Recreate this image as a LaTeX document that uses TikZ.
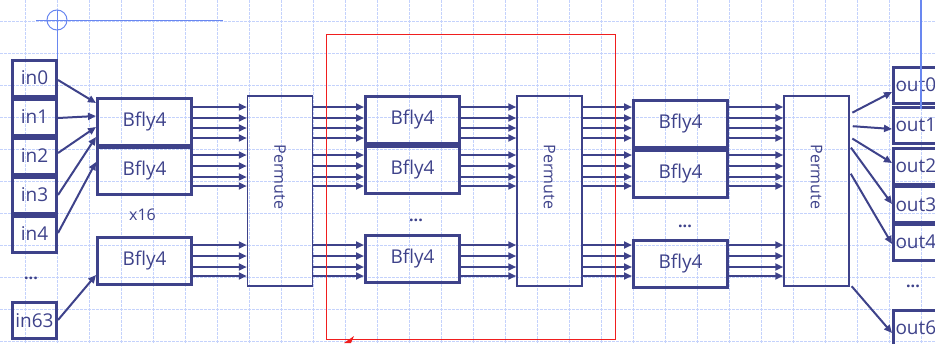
\documentclass[tikz,border=0pt]{standalone}
\usepackage{fontspec}
\setmainfont{Open Sans}
\usetikzlibrary{arrows.meta}
\definecolor{navy}{RGB}{62,66,138}
\definecolor{gridc}{RGB}{196,210,252}
\definecolor{markc}{RGB}{105,135,240}
\definecolor{selred}{RGB}{240,30,30}
\begin{document}
\begin{tikzpicture}[x=1pt,y=-1pt,
  bbox/.style={draw=navy,line width=3pt,inner sep=0pt,text=navy,font=\fontsize{19}{19}\selectfont},
  inbox/.style={bbox,minimum width=44pt,minimum height=36pt},
  fly/.style={bbox,minimum width=94pt,minimum height=47pt},
  perm/.style={draw=navy,line width=1.5pt,minimum width=65pt,minimum height=190pt,inner sep=0pt},
  permtext/.style={text=navy,rotate=-90,font=\fontsize{16}{16}\selectfont,inner sep=0pt},
  obox/.style={bbox,minimum width=60pt,minimum height=36pt,text width=56pt,align=left},
  arr/.style={draw=navy,line width=2pt,-{Triangle[length=8pt,width=7pt]}},
  note/.style={text=navy,font=\fontsize{16}{16}\selectfont,inner sep=0pt},
  dots/.style={text=navy,font=\bfseries\fontsize{16}{16}\selectfont,inner sep=0pt},
  gridline/.style={draw=gridc,line width=0.9pt,dash pattern=on 2.5pt off 1.5pt},
  guideline/.style={draw=markc,line width=1pt}
]
\useasboundingbox (0,0) rectangle (935,343);
\clip (0,0) rectangle (935,343);
% grid
\foreach \gx in {25,57,...,921} \draw[gridline] (\gx,0) -- (\gx,343);
\foreach \gy in {21,53,...,341} \draw[gridline] (0,\gy) -- (935,\gy);

% inputs
\node[inbox] (in0) at (34.5,78) {in0};
\node[inbox] (in1) at (34.5,117) {in1};
\node[inbox] (in2) at (34.5,156) {in2};
\node[inbox] (in3) at (34.5,195) {in3};
\node[inbox] (in4) at (34.5,234) {in4};
\node[inbox] (in63) at (34.5,320.5) {in63};
\node[dots] (din) at (31,278) {...};

% butterflies
\node[fly] (f11) at (144.5,121.5) {Bfly4};
\node[fly] (f12) at (144.5,171) {Bfly4};
\node[fly] (f13) at (144.5,261) {Bfly4};
\node[note] (x16) at (142.5,215) {x16};

\node[fly] (f21) at (412.5,120) {Bfly4};
\node[fly] (f22) at (412.5,169.5) {Bfly4};
\node[fly] (f23) at (412.5,259) {Bfly4};
\node[dots] (d2) at (416,220) {...};

\node[fly] (f31) at (680.5,124) {Bfly4};
\node[fly] (f32) at (680.5,174) {Bfly4};
\node[fly] (f33) at (680.5,264) {Bfly4};
\node[dots] (d3) at (685,226) {...};

% permutes
\node[perm] (p1) at (280,191) {};
\node[perm] (p2) at (549.5,191) {};
\node[perm] (p3) at (816.5,191) {};
\node[permtext] (p1t) at ([yshift=14pt]p1.center) {Permute};
\node[permtext] (p2t) at ([yshift=14pt]p2.center) {Permute};
\node[permtext] (p3t) at ([yshift=14pt]p3.center) {Permute};

% outputs
\node[obox] (o0) at (923.5,85) {out0};
\node[obox] (o1) at (923.5,125) {out1};
\node[obox] (o2) at (923.5,166) {out2};
\node[obox] (o3) at (923.5,204.5) {out3};
\node[obox] (o4) at (923.5,242) {out4};
\node[obox] (o63) at (923.5,328) {out63};
\node[dots] (dout) at (913,286) {...};

% input arrows
\draw[arr] (in0.east |- 0,80) -- (f11.west |- 0,103);
\draw[arr] (in1.east |- 0,118) -- (f11.west |- 0,116);
\draw[arr] (in2.east |- 0,153) -- (f11.west |- 0,127);
\draw[arr] (in3.east |- 0,195) -- (f11.west |- 0,137);
\draw[arr] (in4.east |- 0,233) -- (f12.west |- 0,162);
\draw[arr] (in63.east |- 0,320) -- (f13.west |- 0,275);

% stage arrows
\foreach \a/\b in {f11/p1,f21/p2,f31/p3}
  \foreach \yy in {107,118,128,138} \draw[arr] (\a.east |- 0,\yy) -- (\b.west |- 0,\yy);
\foreach \a/\b in {f12/p1,f22/p2,f32/p3}
  \foreach \yy in {155,166,177,186} \draw[arr] (\a.east |- 0,\yy) -- (\b.west |- 0,\yy);
\foreach \a/\b in {f13/p1,f23/p2,f33/p3}
  \foreach \yy in {245,256,267,276} \draw[arr] (\a.east |- 0,\yy) -- (\b.west |- 0,\yy);
\foreach \a/\b in {p1/f21,p2/f31}
  \foreach \yy in {107,118,128,138} \draw[arr] (\a.east |- 0,\yy) -- (\b.west |- 0,\yy);
\foreach \a/\b in {p1/f22,p2/f32}
  \foreach \yy in {155,166,177,186} \draw[arr] (\a.east |- 0,\yy) -- (\b.west |- 0,\yy);
\foreach \a/\b in {p1/f23,p2/f33}
  \foreach \yy in {245,256,267,276} \draw[arr] (\a.east |- 0,\yy) -- (\b.west |- 0,\yy);

% output arrows
\draw[arr,shorten <=3pt] (p3.east |- 0,114) -- (o0.west |- 0,92);
\draw[arr,shorten <=3pt] (p3.east |- 0,126) -- (o1.west |- 0,129);
\draw[arr,shorten <=3pt] (p3.east |- 0,137) -- (o2.west |- 0,163);
\draw[arr,shorten <=2pt] (p3.east |- 0,146) -- (o3.west |- 0,204);
\draw[arr,shorten <=2pt] (p3.east |- 0,172) -- (o4.west |- 0,244);
\draw[arr,shorten <=3pt] (p3.east |- 0,284) -- (o63.west |- 0,333);

% selection rectangle
\draw[selred,line width=1pt] (326,34) rectangle (615,339);
\fill[selred] (344,343) -- (354,336) -- (351,343) -- cycle;

% crosshair marks
\draw[guideline] (57,20) circle (10);
\draw[guideline] (36,20) -- (223,20);
\draw[guideline] (57,10) -- (57,59);
\draw[guideline,line width=2pt] (921,0) -- (921,109);
\end{tikzpicture}
\end{document}
